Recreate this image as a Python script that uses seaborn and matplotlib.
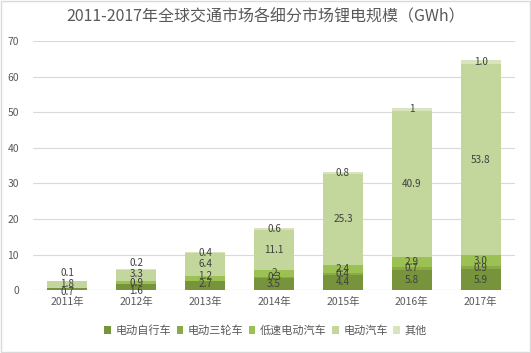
import matplotlib
matplotlib.use("Agg")
import matplotlib.pyplot as plt
import seaborn as sns
import numpy as np
from matplotlib.patches import Rectangle

sns.set_style("white")
plt.rcParams['font.family'] = ['Noto Sans CJK SC', 'DejaVu Sans']

years = ["2011年", "2012年", "2013年", "2014年", "2015年", "2016年", "2017年"]
series_names = ["电动自行车", "电动三轮车", "低速电动汽车", "电动汽车", "其他"]
ebike = [0.7, 1.6, 2.7, 3.5, 4.4, 5.8, 5.9]
etrike = [0, 0, 0, 0.3, 0.4, 0.7, 0.9]
lowspeed = [0, 0.9, 1.2, 2, 2.4, 2.9, 3.0]
ev = [1.8, 3.3, 6.4, 11.1, 25.3, 40.9, 53.8]
other = [0.1, 0.2, 0.4, 0.6, 0.8, 1, 1.0]
label_text = [
    ["0.7", "1.6", "2.7", "3.5", "4.4", "5.8", "5.9"],
    ["", "", "", "0.3", "0.4", "0.7", "0.9"],
    ["", "0.9", "1.2", "2", "2.4", "2.9", "3.0"],
    ["1.8", "3.3", "6.4", "11.1", "25.3", "40.9", "53.8"],
    ["0.1", "0.2", "0.4", "0.6", "0.8", "1", "1.0"],
]
# small vertical label nudges (data units) to mimic de-overlapped labels
label_nudge = [
    [-0.85, -0.9, 0.3, 0, 0, 0, 0],
    [0, 0, 0, 0, 0, 0, 0],
    [0, 0, 0.6, 0, 0, 0, 0],
    [0.2, 0.4, 0.2, 0, 0, 0, 0],
    [2.2, 1.6, 0, 0, 0, 0, 0],
]
colors = ["#77933c", "#8aaa48", "#9bc152", "#c3d69b", "#d7e4bd"]

fig = plt.figure(figsize=(5.31, 3.53), dpi=100)
ax = fig.add_axes([0.062, 0.178, 0.908, 0.706])
fig.patches.append(Rectangle((0.002, 0.003), 0.996, 0.994, transform=fig.transFigure,
                             fill=False, edgecolor="#d9d9d9", linewidth=1))

data = [ebike, etrike, lowspeed, ev, other]
bottom = np.zeros(len(years))
for name, vals, col, labs, nud in zip(series_names, data, colors, label_text, label_nudge):
    vals = np.array(vals, dtype=float)
    sns.barplot(x=years, y=vals, bottom=bottom, color=col, width=0.58,
                label=name, ax=ax, saturation=1, linewidth=0, edgecolor="none")
    for i, (v, t) in enumerate(zip(vals, labs)):
        if t:
            ax.text(i, bottom[i] + v / 2 + nud[i], t, ha="center", va="center",
                    fontsize=7.2, color="#404040")
    bottom = bottom + vals

if ax.get_legend() is not None:
    ax.get_legend().remove()

ax.set_ylim(0, 70)
ax.set_xlim(-0.5, 6.5)
ax.set_yticks(range(0, 71, 10))
ax.yaxis.grid(True, color="#d9d9d9", linewidth=0.8)
ax.set_axisbelow(True)
for s in ax.spines.values():
    s.set_visible(False)
ax.axhline(0, color="#d9d9d9", linewidth=0.8, zorder=0)
ax.tick_params(axis="both", length=0, labelsize=7.5, labelcolor="#595959")
ax.tick_params(axis="y", pad=10)
ax.tick_params(axis="x", pad=5)
ax.set_xlabel("")
ax.set_ylabel("")

fig.suptitle("2011-2017年全球交通市场各细分市场锂电规模（GWh）", fontsize=11.5,
             color="#595959", y=0.975)

handles, labels = ax.get_legend_handles_labels()
fig.legend(handles, labels, loc="lower center", bbox_to_anchor=(0.5, 0.02), ncol=5,
           frameon=False, fontsize=8, handlelength=0.6, handleheight=0.6,
           handletextpad=0.4, columnspacing=0.5, labelcolor="#595959")

fig.savefig("out.png", dpi=100)
